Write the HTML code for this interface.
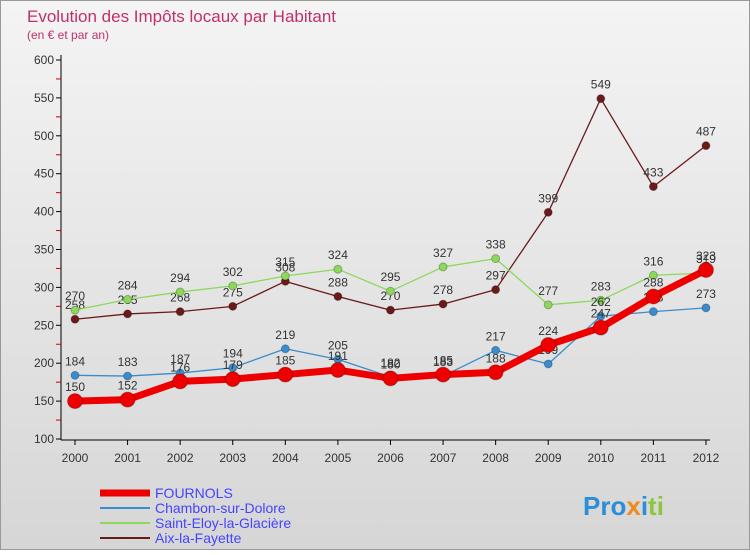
<!DOCTYPE html>
<html><head><meta charset="utf-8"><style>
body{margin:0;width:750px;height:550px;overflow:hidden;font-family:"Liberation Sans",sans-serif}
</style></head><body>
<svg width="750" height="550" xmlns="http://www.w3.org/2000/svg">
<defs><linearGradient id="bg" x1="0" y1="0" x2="0" y2="1"><stop offset="0" stop-color="#f4f4f4"/><stop offset="1" stop-color="#d6d6d6"/></linearGradient></defs>
<rect x="0.5" y="0.5" width="749" height="549" fill="url(#bg)" stroke="#999"/>
<text x="27" y="22" font-size="17" fill="#c0306a">Evolution des Impôts locaux par Habitant</text>
<text x="27" y="39" font-size="12" fill="#c0306a">(en € et par an)</text>
<g id="axes"></g><g id="series"></g>
<g id="legend"></g>
<text x="583" y="515" font-size="26" font-weight="bold" fill="#2a8fd8">Pro<tspan fill="#f08a1c">x</tspan><tspan fill="#2a8fd8">i</tspan><tspan fill="#8cc63f">ti</tspan></text>
</svg>
<script>
const years=[2000,2001,2002,2003,2004,2005,2006,2007,2008,2009,2010,2011,2012];
const yTicks=[100,150,200,250,300,350,400,450,500,550,600];
const fournols=[150,152,176,179,185,191,180,185,188,224,247,288,323];
const chambon=[184,183,187,194,219,205,182,183,217,199,262,268,273];
const eloy=[270,284,294,302,315,324,295,327,338,277,283,316,319];
const aix=[258,265,268,275,308,288,270,278,297,399,549,433,487];
const NS="http://www.w3.org/2000/svg";
const X=i=>75+i*52.58, Y=v=>439-(v-100)*0.758;
function mk(t,a,p){const e=document.createElementNS(NS,t);for(const k in a)e.setAttribute(k,a[k]);p.appendChild(e);return e;}
const ax=document.getElementById('axes');
const yl=mk('line',{x1:61,y1:55,x2:61,y2:440,stroke:'#000'},ax);


const xl=mk('line',{x1:61,y1:440,x2:710,y2:440,stroke:'#000'},ax);


yTicks.forEach(v=>{
 mk('line',{x1:56,y1:Y(v),x2:61,y2:Y(v),stroke:'#000'},ax);
 if(v<600)mk('line',{x1:56,y1:Y(v+25),x2:61,y2:Y(v+25),stroke:'#c00'},ax);
 const t=mk('text',{x:54,y:Y(v)+4,'font-size':12,'text-anchor':'end',fill:'#333'},ax);t.textContent=v;
 
 
});
years.forEach((y,i)=>{
 mk('line',{x1:X(i),y1:440,x2:X(i),y2:445,stroke:'#000'},ax);
 const t=mk('text',{x:X(i),y:462,'font-size':12,'text-anchor':'middle',fill:'#333'},ax);t.textContent=y;
 
 
});
const sg=document.getElementById('series');
const series=[
 {n:'aix',d:aix,c:'#6b1a1a',w:1.3,r:4,lab:'Aix-la-Fayette'},
 {n:'saint-eloy',d:eloy,c:'#8cd85a',w:1.3,r:4,lab:'Saint-Eloy-la-Glacière'},
 {n:'chambon',d:chambon,c:'#3a8ccc',w:1.3,r:4,lab:'Chambon-sur-Dolore'},
 {n:'fournols',d:fournols,c:'#ee0000',w:7,r:7.5,lab:'FOURNOLS'}];
series.forEach(s=>{
 const g=mk('g',{},sg);
 
 
 mk('polyline',{points:s.d.map((v,i)=>X(i)+','+Y(v)).join(' '),fill:'none',stroke:s.c,'stroke-width':s.w,'stroke-linejoin':'round'},g);
 s.d.forEach((v,i)=>{
  const c=mk('circle',{cx:X(i),cy:Y(v),r:s.r,fill:s.c,stroke:'rgba(0,0,0,0.25)'},g);
  
  
  const t=mk('text',{x:X(i),y:Y(v)-10,'font-size':12,'text-anchor':'middle',fill:'#333'},g);t.textContent=v;
  
  
 });
});
const lg=document.getElementById('legend');
[series[3],series[2],series[1],series[0]].forEach((s,i)=>{
 const y=493+i*15;
 const g=mk('g',{},lg);
 
 
 mk('line',{x1:100,y1:y,x2:150,y2:y,stroke:s.c,'stroke-width':s.n==='fournols'?7:2},g);
 const t=mk('text',{x:155,y:y+5,'font-size':14,fill:'#4444ff'},g);t.textContent=s.lab;
});
</script>
</body></html>
